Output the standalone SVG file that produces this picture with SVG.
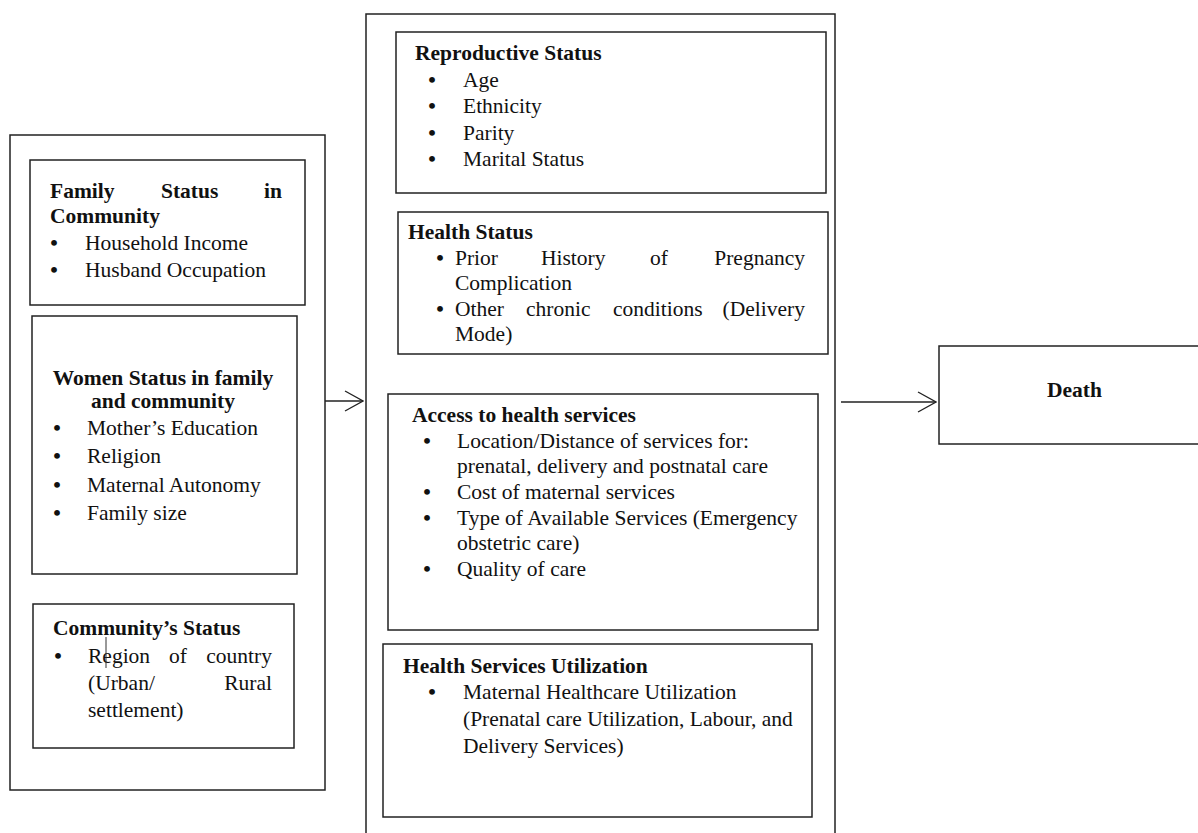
<svg xmlns="http://www.w3.org/2000/svg" width="1198" height="833" viewBox="0 0 1198 833">
<style>
.box{fill:#fff;stroke:#222;stroke-width:1.5}
.outer{fill:none;stroke:#222;stroke-width:1.5}
text{font-family:"Liberation Serif","Times New Roman",serif;font-size:21.5px;fill:#111}
.h{font-weight:bold}
.c{text-anchor:middle}
.e{text-anchor:end}
.b{font-weight:bold;text-anchor:middle}
.conn{stroke:#222;stroke-width:1.3;fill:none}
</style>
<defs>
<marker id="chev" viewBox="0 0 20 22" refX="19" refY="11" markerWidth="20" markerHeight="22" markerUnits="userSpaceOnUse" orient="auto">
<path d="M1,1 L19,11 L1,21" fill="none" stroke="#222" stroke-width="1.3"/>
</marker>
</defs>
<rect width="1198" height="833" fill="#fff"/>

<g id="left-panel">
<rect class="outer" x="10" y="135" width="315" height="655"/>
</g>
<g id="middle-panel">
<rect class="outer" x="366" y="14" width="469" height="840"/>
</g>

<g id="family-status">
<rect class="box" x="30" y="160" width="275" height="145"/>
<text class="h" x="50" y="198">Family</text>
<text class="h" x="161" y="198">Status</text>
<text class="h e" x="282" y="198">in</text>
<text class="h" x="50" y="223">Community</text>
<text class="b" x="54" y="250">•</text><text x="85" y="250">Household Income</text>
<text class="b" x="54" y="277">•</text><text x="85" y="277">Husband Occupation</text>
</g>

<g id="women-status">
<rect class="box" x="32" y="316" width="265" height="258"/>
<text class="h c" x="163" y="385">Women Status in family</text>
<text class="h c" x="163" y="408">and community</text>
<text class="b" x="57" y="435">•</text><text x="87" y="435">Mother’s Education</text>
<text class="b" x="57" y="463">•</text><text x="87" y="463">Religion</text>
<text class="b" x="57" y="492">•</text><text x="87" y="492">Maternal Autonomy</text>
<text class="b" x="57" y="520">•</text><text x="87" y="520">Family size</text>
</g>

<g id="community-status">
<rect class="box" x="33" y="604" width="261" height="144"/>
<text class="h" x="53" y="635">Community’s Status</text>
<text class="b" x="58" y="663">•</text>
<text x="88" y="663">Region</text><text x="169" y="663">of</text><text class="e" x="272" y="663">country</text>
<text x="88" y="690">(Urban/</text><text class="e" x="272" y="690">Rural</text>
<text x="88" y="717">settlement)</text>
<line x1="106" y1="637" x2="106" y2="668" stroke="#333" stroke-width="1"/>
</g>

<g id="reproductive-status">
<rect class="box" x="396" y="32" width="430" height="161"/>
<text class="h" x="415" y="60">Reproductive Status</text>
<text class="b" x="432" y="87">•</text><text x="463" y="87">Age</text>
<text class="b" x="432" y="113">•</text><text x="463" y="113">Ethnicity</text>
<text class="b" x="432" y="140">•</text><text x="463" y="140">Parity</text>
<text class="b" x="432" y="166">•</text><text x="463" y="166">Marital Status</text>
</g>

<g id="health-status">
<rect class="box" x="398" y="212" width="430" height="142"/>
<text class="h" x="408" y="239">Health Status</text>
<text class="b" x="440" y="265">•</text>
<text x="455" y="265">Prior</text><text x="541" y="265">History</text><text x="650" y="265">of</text><text class="e" x="805" y="265">Pregnancy</text>
<text x="455" y="290">Complication</text>
<text class="b" x="440" y="316">•</text>
<text x="455" y="316">Other</text><text x="526" y="316">chronic</text><text x="613" y="316">conditions</text><text class="e" x="805" y="316">(Delivery</text>
<text x="455" y="341">Mode)</text>
</g>

<g id="access-services">
<rect class="box" x="388" y="394" width="430" height="236"/>
<text class="h" x="412" y="422">Access to health services</text>
<text class="b" x="427" y="448">•</text><text x="457" y="448">Location/Distance of services for:</text>
<text x="457" y="473">prenatal, delivery and postnatal care</text>
<text class="b" x="427" y="499">•</text><text x="457" y="499">Cost of maternal services</text>
<text class="b" x="427" y="525">•</text><text x="457" y="525">Type of Available Services (Emergency</text>
<text x="457" y="550">obstetric care)</text>
<text class="b" x="427" y="576">•</text><text x="457" y="576">Quality of care</text>
</g>

<g id="health-services-utilization">
<rect class="box" x="383" y="644" width="429" height="173"/>
<text class="h" x="403" y="673">Health Services Utilization</text>
<text class="b" x="432" y="699">•</text><text x="463" y="699">Maternal Healthcare Utilization</text>
<text x="463" y="726">(Prenatal care Utilization, Labour, and</text>
<text x="463" y="753">Delivery Services)</text>
</g>

<g id="death">
<rect class="box" x="939" y="346" width="270" height="98"/>
<text class="h" x="1047" y="397">Death</text>
</g>

<g id="connectors">
<line class="conn" x1="325" y1="401" x2="363" y2="401" marker-end="url(#chev)"/>
<line class="conn" x1="841" y1="402" x2="936" y2="402" marker-end="url(#chev)"/>
</g>
</svg>
